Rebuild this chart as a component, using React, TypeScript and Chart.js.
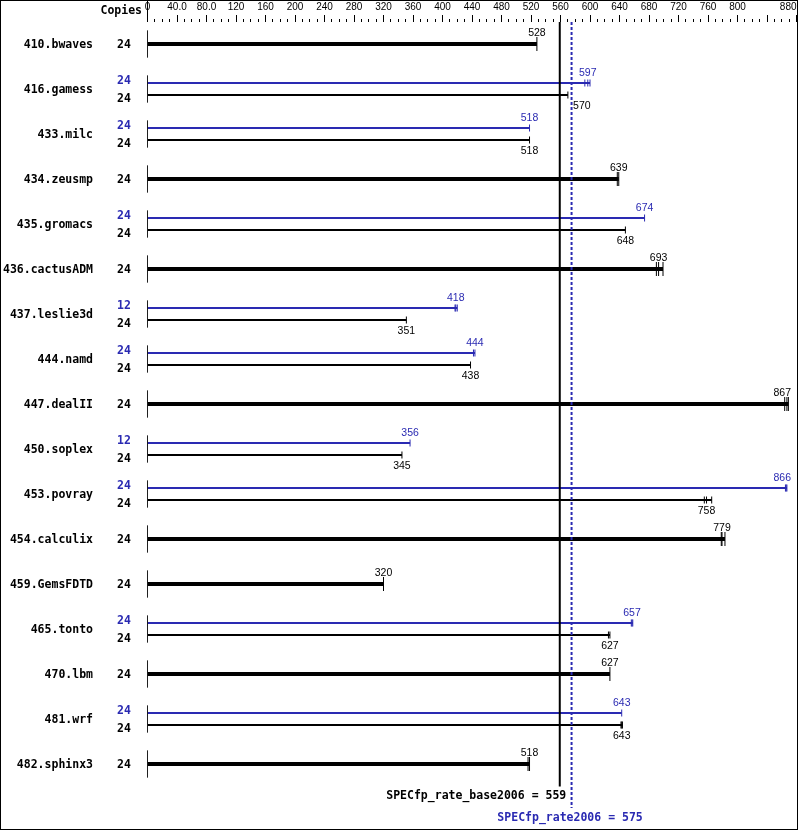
import React, { useEffect, useRef } from 'react';
import { Chart, registerables } from 'chart.js';

Chart.register(...registerables);

// ---------- data ----------
const BENCHMARKS = [
  '410.bwaves', '416.gamess', '433.milc', '434.zeusmp', '435.gromacs', '436.cactusADM',
  '437.leslie3d', '444.namd', '447.dealII', '450.soplex', '453.povray', '454.calculix',
  '459.GemsFDTD', '465.tonto', '470.lbm', '481.wrf', '482.sphinx3',
];
const BASE_COPIES = [24, 24, 24, 24, 24, 24, 24, 24, 24, 24, 24, 24, 24, 24, 24, 24, 24];
const BASE_RATIOS = [528, 570, 518, 639, 648, 693, 351, 438, 867, 345, 758, 779, 320, 627, 627, 643, 518];
const BASE_RUNS = [
  [528], [570], [518], [637, 639], [648], [690, 693, 699],
  [351], [438], [864, 867, 869], [345], [755, 758, 765], [778, 779, 783],
  [320], [625, 627], [627], [642, 643, 644], [516, 518],
];
const PEAK_COPIES = [null, 24, 24, null, 24, null, 12, 24, null, 12, 24, null, null, 24, null, 24, null];
const PEAK_RATIOS = [null, 597, 518, null, 674, null, 418, 444, null, 356, 866, null, null, 657, null, 643, null];
const PEAK_RUNS = [
  null, [593, 597, 600], [518], null, [674], null,
  [417, 418, 420], [442, 444], null, [356], [865, 866, 867], null,
  null, [656, 657, 658], null, [643], null,
];
const BASE_SCORE = 559;
const PEAK_SCORE = 575;
const BASE_SCORE_LABEL = 'SPECfp_rate_base2006 = 559';
const PEAK_SCORE_LABEL = 'SPECfp_rate2006 = 575';
const COPIES_HEADER = 'Copies';
const AXIS_MAX = 880;
const AXIS_STEP = 10;
const AXIS_LABEL_VALUES = [0, 40, 80, 120, 160, 200, 240, 280, 320, 360, 400, 440, 480, 520, 560, 600, 640, 680, 720, 760, 800, 880];
const AXIS_LABEL_TEXTS = ['0', '40.0', '80.0', '120', '160', '200', '240', '280', '320', '360', '400', '440', '480', '520', '560', '600', '640', '680', '720', '760', '800', '880'];

// ---------- style ----------
const BLUE = '#2a2ab2';
const BLACK = '#000000';
const MONO = '"DejaVu Sans Mono", monospace';
const SANS = '"Liberation Sans", Arial, sans-serif';
const ROW_PX = 45;
const OFF = 6 / ROW_PX; // peak/base offset within a row
const CAP = 0.3; // start cap half height (rows)

function lineDs(points: any[], color: string, width: number, order: number, dash: number[] = []) {
  return {
    data: points,
    showLine: true,
    borderColor: color,
    backgroundColor: color,
    borderWidth: width,
    borderDash: dash,
    borderCapStyle: 'butt',
    pointRadius: 0,
    pointHoverRadius: 0,
    tension: 0,
    fill: false,
    order,
  };
}

function tickDs(values: number[], y: number, color: string, radius: number) {
  return {
    data: values.map((v) => ({ x: v, y })),
    showLine: false,
    pointStyle: 'line',
    pointRotation: 90,
    pointRadius: radius,
    pointHoverRadius: radius,
    pointBorderWidth: 1,
    pointBorderColor: color,
    borderColor: color,
    backgroundColor: color,
    borderWidth: 1,
    order: 1,
  };
}

function buildDatasets() {
  const ds: any[] = [];
  BENCHMARKS.forEach((_, i) => {
    const dual = PEAK_RATIOS[i] != null;
    ds.push(lineDs([{ x: 0, y: i - CAP }, { x: 0, y: i + CAP }], BLACK, 1, 2));
    const by = dual ? i + OFF : i;
    const bmax = Math.max(...BASE_RUNS[i]);
    ds.push(lineDs([{ x: 0, y: by }, { x: bmax, y: by }], BLACK, dual ? 2 : 4, 2));
    ds.push(tickDs(BASE_RUNS[i], by, BLACK, dual ? 3.5 : 7));
    if (dual) {
      const py = i - OFF;
      const runs = PEAK_RUNS[i] as number[];
      ds.push(lineDs([{ x: 0, y: py }, { x: Math.max(...runs), y: py }], BLUE, 2, 2));
      ds.push(tickDs(runs, py, BLUE, 3.5));
    }
  });
  const last = BENCHMARKS.length - 1;
  ds.push(lineDs([{ x: BASE_SCORE, y: -0.49 }, { x: BASE_SCORE, y: last + 0.5 }], BLACK, 2, 0));
  ds.push(lineDs([{ x: PEAK_SCORE, y: -0.49 }, { x: PEAK_SCORE, y: last + 0.98 }], BLUE, 2, 0, [3, 2]));
  return ds;
}

const textPlugin = {
  id: 'specText',
  afterDraw(chart: any) {
    const { ctx } = chart;
    const xs = chart.scales.x;
    const ys = chart.scales.y;
    const px = (v: number) => xs.getPixelForValue(v);
    const py = (v: number) => ys.getPixelForValue(v);
    ctx.save();
    // frame
    ctx.strokeStyle = BLACK;
    ctx.lineWidth = 1;
    ctx.setLineDash([]);
    ctx.strokeRect(0.5, 0.5, chart.width - 2, chart.height - 2);
    // zero tick extension
    ctx.beginPath();
    ctx.moveTo(px(0), 0);
    ctx.lineTo(px(0), xs.bottom);
    ctx.stroke();
    // last axis label, right aligned at its tick
    const li = AXIS_LABEL_VALUES.length - 1;
    ctx.font = `10px ${SANS}`;
    ctx.fillStyle = BLACK;
    ctx.textAlign = 'right';
    ctx.textBaseline = 'middle';
    ctx.fillText(AXIS_LABEL_TEXTS[li], px(AXIS_LABEL_VALUES[li]), xs.bottom - 7 - 2 - 6);

    ctx.textBaseline = 'alphabetic';
    ctx.font = `bold 11.5px ${MONO}`;
    ctx.textAlign = 'right';
    ctx.fillText(COPIES_HEADER, 142, 14);

    const lineL = px(BASE_SCORE) - 1;
    const lineR = px(PEAK_SCORE) + 1;
    const valueLabel = (v: number, y: number, color: string) => {
      ctx.font = `10.5px ${SANS}`;
      const t = String(v);
      const w = ctx.measureText(t).width;
      let left = px(v) - w / 2;
      if (left < lineR && left + w > lineL) left = lineR + 0.5;
      if (left + w > xs.right - 5.5) left = xs.right - 5.5 - w;
      ctx.fillStyle = color;
      ctx.textAlign = 'left';
      ctx.fillText(t, left, y);
    };

    BENCHMARKS.forEach((name, i) => {
      const dual = PEAK_RATIOS[i] != null;
      const c = py(i);
      ctx.font = `bold 11.5px ${MONO}`;
      ctx.fillStyle = BLACK;
      ctx.textAlign = 'right';
      ctx.fillText(name, 93, c + 4);
      ctx.textAlign = 'center';
      if (dual) {
        ctx.fillStyle = BLUE;
        ctx.fillText(String(PEAK_COPIES[i]), 124, c - 5);
        ctx.fillStyle = BLACK;
        ctx.fillText(String(BASE_COPIES[i]), 124, c + 13);
        valueLabel(PEAK_RATIOS[i] as number, py(i - OFF) - 7, BLUE);
        valueLabel(BASE_RATIOS[i], py(i + OFF) + 14, BLACK);
      } else {
        ctx.fillText(String(BASE_COPIES[i]), 124, c + 4);
        valueLabel(BASE_RATIOS[i], c - 8, BLACK);
      }
    });

    const lastC = py(BENCHMARKS.length - 1);
    ctx.font = `bold 11.5px ${MONO}`;
    ctx.fillStyle = BLACK;
    ctx.textAlign = 'right';
    ctx.fillText(BASE_SCORE_LABEL, px(BASE_SCORE) + 6.5, lastC + 35);
    ctx.fillStyle = BLUE;
    ctx.textAlign = 'center';
    ctx.fillText(PEAK_SCORE_LABEL, px(PEAK_SCORE) - 1.5, lastC + 57);
    ctx.restore();
  },
};

export default function App() {
  const ref = useRef<HTMLCanvasElement>(null);
  useEffect(() => {
    if (!ref.current) return;
    const chart = new Chart(ref.current, {
      type: 'scatter',
      data: { datasets: buildDatasets() },
      options: {
        animation: false,
        responsive: false,
        devicePixelRatio: 1,
        events: [],
        layout: { autoPadding: false, padding: { left: 147.5, right: 2.5, top: 0, bottom: 0 } },
        plugins: { legend: { display: false }, tooltip: { enabled: false } },
        scales: {
          x: {
            type: 'linear',
            position: 'top',
            min: 0,
            max: AXIS_MAX,
            border: { display: false },
            grid: {
              display: true,
              drawOnChartArea: false,
              drawTicks: true,
              tickLength: 7,
              tickColor: BLACK,
              tickWidth: 1,
              color: BLACK,
              tickBorderDash: (ctx: any) =>
                ctx.tick && Math.round(ctx.tick.value) % 40 === 0 ? [] : [0, 4, 3, 10],
            },
            ticks: {
              stepSize: AXIS_STEP,
              autoSkip: false,
              maxRotation: 0,
              minRotation: 0,
              padding: 2,
              color: BLACK,
              font: { family: SANS, size: 10 },
              callback: (v: any) => {
                const k = AXIS_LABEL_VALUES.indexOf(Math.round(Number(v)));
                return k >= 0 && k < AXIS_LABEL_VALUES.length - 1 ? AXIS_LABEL_TEXTS[k] : '';
              },
            },
            afterFit: (s: any) => {
              s.height = 22;
              s.paddingLeft = 0;
              s.paddingRight = 0;
            },
          },
          y: {
            type: 'linear',
            display: false,
            reverse: true,
            min: -22 / ROW_PX,
            max: (831 - 44) / ROW_PX,
          },
        },
      } as any,
      plugins: [textPlugin],
    });
    return () => chart.destroy();
  }, []);
  return (
    <div style={{ position: 'fixed', left: 0, top: 0, width: 799, height: 831, background: '#fff' }}>
      <canvas ref={ref} width={799} height={831} style={{ display: 'block', width: 799, height: 831 }} />
    </div>
  );
}
